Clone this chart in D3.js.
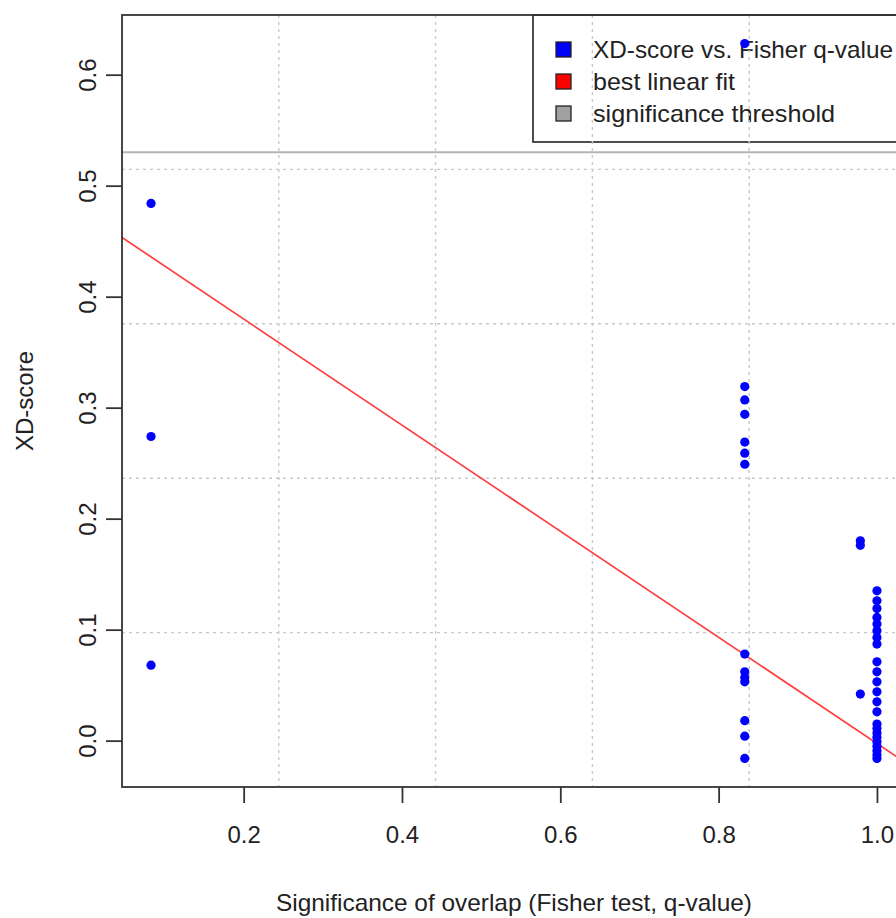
<!DOCTYPE html>
<html>
<head>
<meta charset="utf-8">
<script src="https://cdn.jsdelivr.net/npm/d3@7"></script>
<style>
  body { margin: 0; background: #fff; }
  svg { display: block; }
  text { font-family: "Liberation Sans", Arial, sans-serif; fill: #222; }
</style>
</head>
<body>
<div class="chart"></div>
<script>
// XD-score vs Fisher q-value scatter

// q-value columns (x) and the XD-scores found in each one
var qValues = [0.083, 0.833, 0.979, 1.0];
var scoresAtQ1 = [0.484, 0.274, 0.068];
var scoresAtQ2 = [0.628, 0.319, 0.307, 0.294, 0.269, 0.259, 0.249, 0.078, 0.062, 0.057, 0.053, 0.018, 0.004, -0.016];
var scoresAtQ3 = [0.180, 0.176, 0.042];
var scoresAtQ4 = [0.135, 0.126, 0.119, 0.111, 0.105, 0.099, 0.093, 0.087, 0.071, 0.062, 0.053, 0.044, 0.035, 0.026,
                  0.015, 0.011, 0.007, 0.003, -0.001, -0.005, -0.009, -0.013, -0.016];

// best linear fit (intercept, slope) and threshold
var fitIntercept = 0.4755;
var fitSlope = -0.478;
var threshold = 0.53;

var xTicks = [0.2, 0.4, 0.6, 0.8, 1.0];
var yTicks = [0.0, 0.1, 0.2, 0.3, 0.4, 0.5, 0.6];
var legendLabels = ["XD-score vs. Fisher q-value", "best linear fit", "significance threshold"];
var legendColors = ["#0000ff", "#ff0000", "#a0a0a0"];

var xLabel = "Significance of overlap (Fisher test, q-value)";
var yLabel = "XD-score";

// flatten into points
var points = [];
[scoresAtQ1, scoresAtQ2, scoresAtQ3, scoresAtQ4].forEach(function (col, i) {
  col.forEach(function (s) { points.push({ q: qValues[i], score: s }); });
});

var svgWidth = 896;
var svgHeight = 918;
// plot region (right side runs off the picture like the original)
var margin = { top: 15, left: 122 };
var plotW = 784;
var plotH = 772;

var svg = d3.select(".chart").append("svg")
  .attr("width", svgWidth)
  .attr("height", svgHeight);

// R style 4% padding on the data range
function padded(ext) {
  var r = ext[1] - ext[0];
  return [ext[0] - 0.04 * r, ext[1] + 0.04 * r];
}

var xScale = d3.scaleLinear()
  .domain(padded(d3.extent(points, d => d.q)))
  .range([0, plotW]);

var yScale = d3.scaleLinear()
  .domain(padded(d3.extent(points, d => d.score)))
  .range([plotH, 0]);

var chartGroup = svg.append("g")
  .attr("transform", `translate(${margin.left}, ${margin.top})`);

svg.append("defs").append("clipPath").attr("id", "plotclip")
  .append("rect").attr("width", plotW).attr("height", plotH);

// legend (no background, grid shows through)
var legendWidths = [300, 142, 242];
var legend = chartGroup.append("g")
  .attr("transform", `translate(${411}, 0)`);
legend.append("rect")
  .attr("width", 400)
  .attr("height", 127)
  .attr("fill", "none")
  .attr("stroke", "#222")
  .attr("stroke-width", 1.6);

legend.selectAll(".key")
  .data(legendLabels)
  .enter()
  .append("rect")
  .attr("class", "key")
  .attr("x", 23)
  .attr("y", (d, i) => 27 + i * 32)
  .attr("width", 15)
  .attr("height", 15)
  .attr("fill", (d, i) => legendColors[i])
  .attr("stroke", "#222")
  .attr("stroke-width", 1.3);

legend.selectAll(".lab")
  .data(legendLabels)
  .enter()
  .append("text")
  .attr("class", "lab")
  .attr("x", 60)
  .attr("y", (d, i) => 35 + i * 32)
  .attr("dy", "0.35em")
  .attr("font-size", "24px")
  .attr("textLength", (d, i) => legendWidths[i])
  .attr("lengthAdjust", "spacingAndGlyphs")
  .text(d => d);

// grid: 5 equal divisions of the plot region
var plotArea = chartGroup.append("g").attr("clip-path", "url(#plotclip)");
var gx = d3.range(1, 5).map(i => xScale.domain()[0] + i * (xScale.domain()[1] - xScale.domain()[0]) / 5);
var gy = d3.range(1, 5).map(i => yScale.domain()[0] + i * (yScale.domain()[1] - yScale.domain()[0]) / 5);

plotArea.selectAll(".gridx")
  .data(gx)
  .enter()
  .append("line")
  .attr("x1", d => xScale(d)).attr("x2", d => xScale(d))
  .attr("y1", 0).attr("y2", plotH)
  .attr("stroke", "#c8c8c8")
  .attr("stroke-width", 1.4)
  .attr("stroke-dasharray", "3,4");

plotArea.selectAll(".gridy")
  .data(gy)
  .enter()
  .append("line")
  .attr("y1", d => yScale(d)).attr("y2", d => yScale(d))
  .attr("x1", 0).attr("x2", plotW)
  .attr("stroke", "#c8c8c8")
  .attr("stroke-width", 1.4)
  .attr("stroke-dasharray", "3,4");

// best fit line across the whole region
var xd = xScale.domain();
plotArea.append("line")
  .attr("x1", xScale(xd[0]))
  .attr("y1", yScale(fitIntercept + fitSlope * xd[0]))
  .attr("x2", xScale(xd[1]))
  .attr("y2", yScale(fitIntercept + fitSlope * xd[1]))
  .attr("stroke", "#ff4040")
  .attr("stroke-width", 1.7);

// significance threshold
plotArea.append("line")
  .attr("x1", 0).attr("x2", plotW)
  .attr("y1", yScale(threshold)).attr("y2", yScale(threshold))
  .attr("stroke", "#b4b4b4")
  .attr("stroke-width", 2);

// points
chartGroup.append("g").selectAll("circle")
  .data(points)
  .enter()
  .append("circle")
  .attr("cx", d => xScale(d.q))
  .attr("cy", d => yScale(d.score))
  .attr("r", 4.6)
  .attr("fill", "#0000ff");

// box
chartGroup.append("rect")
  .attr("width", plotW)
  .attr("height", plotH)
  .attr("fill", "none")
  .attr("stroke", "#333")
  .attr("stroke-width", 1.8);

// axes
var bottomAxis = d3.axisBottom(xScale).tickValues(xTicks).tickFormat(d3.format(".1f")).tickSize(16);
var leftAxis = d3.axisLeft(yScale).tickValues(yTicks).tickFormat(d3.format(".1f")).tickSize(16);

var xAxisG = chartGroup.append("g")
  .attr("transform", `translate(0, ${plotH})`)
  .call(bottomAxis);
xAxisG.select(".domain").remove();
xAxisG.selectAll("line").attr("stroke", "#333").attr("stroke-width", 1.8);
xAxisG.selectAll("text")
  .attr("font-size", "24px")
  .attr("fill", "#222")
  .attr("y", 39)
  .attr("dy", "0.71em")
  .style("font-family", "'Liberation Sans', Arial, sans-serif");

var yAxisG = chartGroup.append("g").call(leftAxis);
yAxisG.select(".domain").remove();
yAxisG.selectAll("line").attr("stroke", "#333").attr("stroke-width", 1.8);
yAxisG.selectAll("text")
  .attr("font-size", "24px")
  .attr("fill", "#222")
  .attr("x", null)
  .attr("text-anchor", "middle")
  .attr("transform", "translate(-34, 0) rotate(-90)")
  .attr("y", 0)
  .attr("dy", "0.35em")
  .style("font-family", "'Liberation Sans', Arial, sans-serif");

// axis titles
svg.append("text")
  .attr("x", margin.left + plotW / 2)
  .attr("y", 903)
  .attr("dy", "0.35em")
  .attr("text-anchor", "middle")
  .attr("font-size", "24px")
  .attr("textLength", 476)
  .attr("lengthAdjust", "spacingAndGlyphs")
  .text(xLabel);

svg.append("text")
  .attr("transform", `translate(25, ${margin.top + plotH / 2}) rotate(-90)`)
  .attr("dy", "0.35em")
  .attr("text-anchor", "middle")
  .attr("font-size", "24px")
  .text(yLabel);
</script>
</body>
</html>
